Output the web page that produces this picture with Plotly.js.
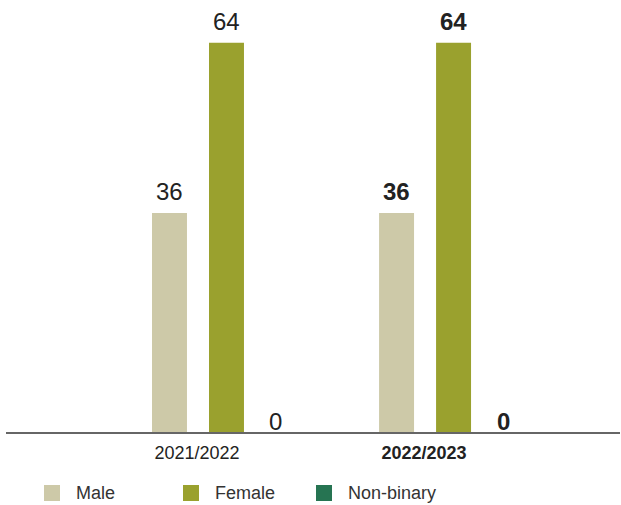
<!DOCTYPE html>
<html>
<head>
<meta charset="utf-8">
<script src="https://cdn.plot.ly/plotly-3.0.1.min.js"></script>
<style>
  html, body { margin: 0; padding: 0; background: #fff; }
  #chart { width: 621px; height: 505px; }
</style>
</head>
<body>
<div id="chart"></div>
<script>
// Gender split (%) by reporting year
const years = ['2021/2022', '2022/2023'];
const seriesNames = ['Male', 'Female', 'Non-binary'];
const male = [36, 36];
const female = [64, 64];
const nonBinary = [0, 0];
const seriesColors = ['#cdc9a8', '#9aa12e', '#267452'];

const seriesValues = [male, female, nonBinary];
const FONT = '"Liberation Sans", Arial, Helvetica, sans-serif';
const TEXT_COLOR = '#222';

// figure geometry (px)
const W = 621, H = 505;
const M = { l: 6, r: 1, t: 10, b: 73 };
const plotW = W - M.l - M.r;
const plotH = H - M.t - M.b;
const paperX = px => (px - M.l) / plotW;
const paperY = py => (H - M.b - py) / plotH;

// horizontal placement of each series inside a year group (axis units)
const barWidth = 0.154;
const seriesShift = [-0.251, 0, 0.218];
const tickShift = -0.13;
const current = years.length - 1;

const idx = years.map((_, i) => i);

const traces = seriesNames.map((name, s) => ({
  type: 'bar',
  name: name,
  x: idx,
  y: seriesValues[s],
  width: barWidth,
  offset: seriesShift[s] - barWidth / 2,
  marker: { color: seriesColors[s], line: { width: 0 } },
  hoverinfo: 'skip'
}));

// value labels above each bar; latest year in bold
const annotations = [];
seriesValues.forEach((vals, s) => {
  vals.forEach((v, i) => {
    annotations.push({
      x: i + seriesShift[s],
      y: v,
      xref: 'x', yref: 'y',
      text: i === current ? '<b>' + v + '</b>' : String(v),
      showarrow: false,
      yanchor: 'bottom',
      yshift: v > 0 ? 6 : -5,
      font: { family: FONT, size: 24, color: TEXT_COLOR }
    });
  });
});

// legend row below the axis: square swatch + label per series
const legendLeft = [44, 183, 316];
const swatch = 16;
const legendMid = 493;
const shapes = [];
seriesNames.forEach((name, s) => {
  const x0 = legendLeft[s];
  shapes.push({
    type: 'rect',
    xref: 'paper', yref: 'paper',
    x0: paperX(x0), x1: paperX(x0 + swatch),
    y0: paperY(legendMid + swatch / 2), y1: paperY(legendMid - swatch / 2),
    fillcolor: seriesColors[s],
    line: { width: 0 }
  });
  annotations.push({
    xref: 'paper', yref: 'paper',
    x: paperX(x0 + swatch + 14),
    y: paperY(legendMid),
    xanchor: 'left', yanchor: 'middle',
    text: name,
    showarrow: false,
    font: { family: FONT, size: 18, color: '#333' }
  });
});

const layout = {
  width: W,
  height: H,
  margin: M,
  paper_bgcolor: '#fff',
  plot_bgcolor: '#fff',
  barmode: 'overlay',
  showlegend: false,
  font: { family: FONT, color: TEXT_COLOR },
  xaxis: {
    range: [-0.971, 1.733],
    tickmode: 'array',
    tickvals: idx.map(i => i + tickShift),
    ticktext: years.map((y, i) => i === current ? '<b>' + y + '</b>' : y),
    tickfont: { family: FONT, size: 18, color: TEXT_COLOR },
    ticks: '',
    ticklabelstandoff: 4,
    showgrid: false,
    zeroline: false,
    showline: true,
    linecolor: '#666',
    linewidth: 1.5,
    fixedrange: true
  },
  yaxis: {
    range: [0, 69.4],
    visible: false,
    showgrid: false,
    zeroline: false,
    fixedrange: true
  },
  shapes: shapes,
  annotations: annotations
};

Plotly.newPlot('chart', traces, layout, { displayModeBar: false, staticPlot: true });
</script>
</body>
</html>
